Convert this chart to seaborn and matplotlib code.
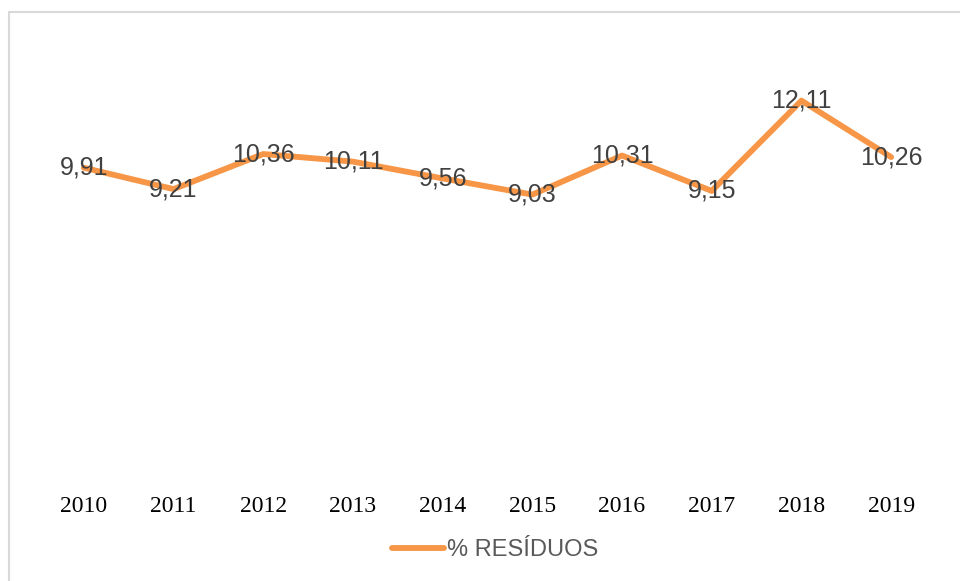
import matplotlib
matplotlib.use('Agg')
import matplotlib.pyplot as plt
from matplotlib.patches import Rectangle
import seaborn as sns
import pandas as pd

anos = ['2010', '2011', '2012', '2013', '2014', '2015', '2016', '2017', '2018', '2019']
residuos = [9.91, 9.21, 10.36, 10.11, 9.56, 9.03, 10.31, 9.15, 12.11, 10.26]
serie = '% RESÍDUOS'

sns.set_style('white')
plt.rcParams['font.family'] = ['Liberation Sans', 'DejaVu Sans']

df = pd.DataFrame({'ano': anos, 'valor': residuos})

fig = plt.figure(figsize=(9.6, 5.81), dpi=100)
ax = fig.add_axes([39 / 960, 1 - 470 / 581, 897 / 960, 427 / 581])

sns.lineplot(data=df, x='ano', y='valor', color='#F79646', linewidth=4.2,
             label=serie, ax=ax, legend=False)

# rotulos dos dados (centrados no ponto, estilo Excel)
for i, v in enumerate(residuos):
    ax.text(i, v, f'{v:.2f}'.replace('.', ','), ha='center', va='center',
            fontsize=18, color='#404040')

ax.set_xlim(-0.5, len(anos) - 0.5)
ax.set_ylim(0, 14)
ax.set_yticks([])
ax.set_xlabel('')
ax.set_ylabel('')
ax.tick_params(axis='x', length=0, pad=19)
for lab in ax.get_xticklabels():
    lab.set_fontfamily('Liberation Serif')
    lab.set_fontsize(17)
    lab.set_color('#000000')
for s in ax.spines.values():
    s.set_visible(False)

h, l = ax.get_legend_handles_labels()
fig.legend(h, l, loc='center', bbox_to_anchor=(495 / 960, 1 - 550 / 581),
           frameon=False, fontsize=17, handlelength=2.2, handletextpad=0.1,
           labelcolor='#595959')

# moldura cinza do grafico
fig.patches.append(Rectangle((9 / 960, -0.2), 1.2, 1.2 - 12 / 581,
                             transform=fig.transFigure, fill=False,
                             edgecolor='#D9D9D9', linewidth=1.5))

fig.savefig('out.png', dpi=100)
